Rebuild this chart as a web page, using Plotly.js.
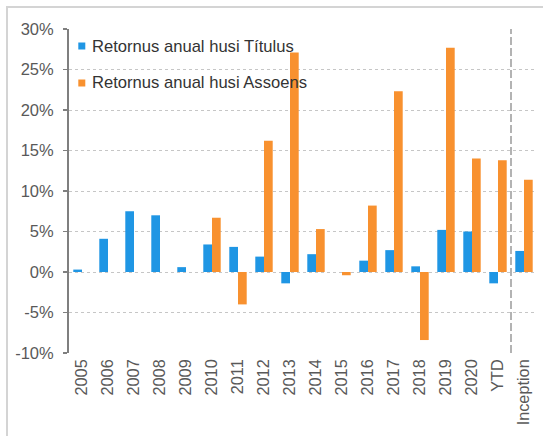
<!DOCTYPE html>
<html>
<head>
<meta charset="utf-8">
<script src="https://cdn.plot.ly/plotly-3.0.1.min.js"></script>
<style>
  html, body { margin: 0; padding: 0; background: #ffffff; }
  #chart { width: 543px; height: 436px; }
</style>
</head>
<body>
<div id="chart"></div>
<script>
// ---- Data ----
const categories = ['2005','2006','2007','2008','2009','2010','2011','2012','2013','2014','2015','2016','2017','2018','2019','2020','YTD','Inception'];
const seriesNames = ['Retornus anual husi Títulus', 'Retornus anual husi Assoens'];
const titulusReturns = [0.3, 4.1, 7.5, 7.0, 0.6, 3.4, 3.1, 1.9, -1.4, 2.2, 0, 1.4, 2.7, 0.7, 5.2, 5.0, -1.4, 2.6];
const assoensReturns = [null, null, null, null, null, 6.7, -4.0, 16.2, 27.1, 5.3, -0.4, 8.2, 22.3, -8.4, 27.7, 14.0, 13.8, 11.4];
const yTickVals = [-10, -5, 0, 5, 10, 15, 20, 25, 30];
const yTickText = ['-10%', '-5%', '0%', '5%', '10%', '15%', '20%', '25%', '30%'];
const separatorAfter = 'YTD';

// ---- Styling ----
const FONT = 'Liberation Sans, Arial, sans-serif';
const BLUE = '#1f96e4';
const ORANGE = '#f8912f';
const AXIS = '#7f7f7f';
const TICKTXT = '#595959';

const xMin = -0.5, xMax = categories.length - 0.5;
const yMin = yTickVals[0], yMax = yTickVals[yTickVals.length - 1];

const traces = [
  { type: 'bar', name: seriesNames[0], x: categories, y: titulusReturns,
    marker: { color: BLUE }, hovertemplate: '%{x}: %{y}%<extra></extra>' },
  { type: 'bar', name: seriesNames[1], x: categories, y: assoensReturns,
    marker: { color: ORANGE }, hovertemplate: '%{x}: %{y}%<extra></extra>' }
];

// boundary ticks for the zero line axis
const boundaryTicks = categories.map((c, i) => i + 0.5);
const sepIndex = categories.indexOf(separatorAfter) + 0.5;

// geometry helpers for paper-space decorations
const W = 543, H = 436, M = { l: 69, r: 6, t: 29, b: 83 };
const pw = W - M.l - M.r, ph = H - M.t - M.b;
const px = v => (v - M.l) / pw;
const py = v => (H - M.b - v) / ph;

const legendRows = [
  { name: seriesNames[0], color: BLUE, yc: 46 },
  { name: seriesNames[1], color: ORANGE, yc: 83 }
];

const shapes = [
  // outer light frame
  { type: 'rect', xref: 'paper', yref: 'paper', layer: 'below',
    x0: px(7), x1: px(560), y0: py(460), y1: py(7),
    line: { color: '#d4d4d4', width: 2 }, fillcolor: 'rgba(0,0,0,0)' },
  // dashed separator between YTD and Inception
  { type: 'line', xref: 'x', yref: 'y', x0: sepIndex, x1: sepIndex, y0: yMin, y1: yMax,
    line: { color: '#9a9a9a', width: 1.5, dash: '8px,3px' } }
];
const annotations = [];
legendRows.forEach(r => {
  shapes.push({ type: 'rect', xref: 'paper', yref: 'paper',
    x0: px(78.3), x1: px(85.3), y0: py(r.yc + 3.5), y1: py(r.yc - 3.5),
    line: { width: 0 }, fillcolor: r.color });
  annotations.push({ xref: 'paper', yref: 'paper', x: px(89.5), y: py(r.yc),
    xanchor: 'left', yanchor: 'middle', showarrow: false, text: r.name,
    font: { family: FONT, size: 16.6, color: '#333333' } });
});

const layout = {
  width: W, height: H,
  margin: M,
  paper_bgcolor: '#ffffff', plot_bgcolor: '#ffffff',
  showlegend: false,
  barmode: 'group', bargap: 0.33, bargroupgap: 0,
  font: { family: FONT, size: 16.5, color: TICKTXT },
  xaxis: {
    type: 'category', range: [xMin, xMax],
    showline: false, showgrid: false, zeroline: false, ticks: '',
    tickangle: -90, tickfont: { family: FONT, size: 16.3, color: TICKTXT },
    ticklabelstandoff: 2, fixedrange: true
  },
  xaxis2: {
    overlaying: 'x', anchor: 'free', position: (0 - yMin) / (yMax - yMin), side: 'bottom',
    range: [xMin, xMax], showline: true, linecolor: AXIS, linewidth: 1.5,
    ticks: 'outside', ticklen: 4, tickwidth: 1.5, tickcolor: AXIS,
    tickmode: 'array', tickvals: boundaryTicks, showticklabels: false,
    showgrid: false, zeroline: false, fixedrange: true
  },
  yaxis: {
    range: [yMin, yMax], tickmode: 'array', tickvals: yTickVals, ticktext: yTickText,
    showline: true, linecolor: AXIS, linewidth: 2,
    ticks: 'outside', ticklen: 4, tickwidth: 1.5, tickcolor: AXIS,
    showgrid: true, gridcolor: '#c6c6c6', gridwidth: 1, griddash: '3px,3px',
    zeroline: false, tickfont: { family: FONT, size: 16.5, color: TICKTXT },
    ticklabelstandoff: 6, fixedrange: true
  },
  shapes: shapes,
  annotations: annotations
};

Plotly.newPlot('chart', traces, layout, { staticPlot: true, displayModeBar: false });
</script>
</body>
</html>
